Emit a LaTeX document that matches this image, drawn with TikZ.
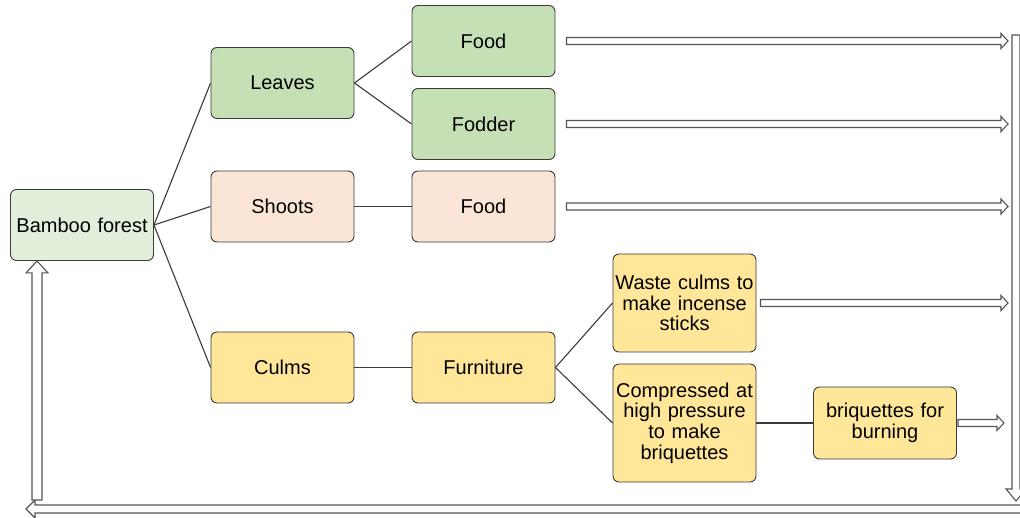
\documentclass[tikz,border=0pt]{standalone}
\usepackage{fontspec}
\setmainfont{Liberation Sans}
\usetikzlibrary{calc}
\definecolor{gA}{HTML}{E2EFDA}
\definecolor{gB}{HTML}{C5E0B4}
\definecolor{pk}{HTML}{FBE5D6}
\definecolor{yl}{HTML}{FFE699}
\definecolor{ed}{HTML}{3A3A3A}
\definecolor{ag}{HTML}{555555}
% block arrow: #1 start, #2 tip, #3 shaft half width, #4 head half width, #5 head length
\newcommand\blkarr[5]{%
  \coordinate (hb) at ($(#2)!#5!(#1)$);
  \draw[blk] ($(#1)!#3!90:(#2)$) -- ($(hb)!#3!90:(#2)$) -- ($(hb)!#4!90:(#2)$)
    -- (#2) -- ($(hb)!#4!-90:(#2)$) -- ($(hb)!#3!-90:(#2)$)
    -- ($(#1)!#3!-90:(#2)$) -- cycle;}
\begin{document}
\begin{tikzpicture}[x=1pt,y=-1pt,
  box/.style={draw=ed, line width=0.9pt, rounded corners=6pt, inner sep=0pt,
    align=center, text width=#1, minimum height=71pt,
    font=\fontsize{20}{20.7}\selectfont},
  box/.default=143pt,
  link/.style={draw=ed, line width=1.1pt},
  blk/.style={draw=ag, line width=1.1pt, fill=white, line join=miter}]
\useasboundingbox (0,0) rectangle (1020,518);
% nodes
\node[box, fill=gA] (bamboo) at (82,225) {Bamboo forest};
\node[box, fill=gB] (leaves) at (282.5,83) {Leaves};
\node[box, fill=gB] (food1) at (483.5,41) {Food};
\node[box, fill=gB] (fodder) at (483.5,124) {Fodder};
\node[box, fill=pk] (shoots) at (282.5,206.5) {Shoots};
\node[box, fill=pk] (food2) at (483.5,206.5) {Food};
\node[box, fill=yl] (culms) at (282.5,367.5) {Culms};
\node[box, fill=yl] (furn) at (483.5,367.5) {Furniture};
\node[box, fill=yl, minimum height=98pt] (waste) at (684.5,303) {Waste culms to\\make incense\\sticks};
\node[box, fill=yl, minimum height=118pt] (comp) at (684.5,423) {Compressed at\\high pressure\\to make\\briquettes};
\node[box, fill=yl, minimum height=72pt] (briq) at (885,423) {briquettes for\\burning};
% links
\draw[link] (bamboo.east) -- (leaves.west);
\draw[link] (bamboo.east) -- (shoots.west);
\draw[link] (bamboo.east) -- (culms.west);
\draw[link] (leaves.east) -- (food1.west);
\draw[link] (leaves.east) -- (fodder.west);
\draw[link] (shoots) -- (food2);
\draw[link] (culms) -- (furn);
\draw[link] (furn.east) -- (waste.west);
\draw[link] (furn.east) -- (comp.west);
\draw[link] (comp) -- (briq);
% hollow block arrows
\coordinate (rc) at (1008,0);
\coordinate (f1s) at ([xshift=11pt]food1.east);
\coordinate (f1e) at (food1.east -| rc);
\coordinate (fds) at ([xshift=11pt]fodder.east);
\coordinate (fde) at (fodder.east -| rc);
\coordinate (f2s) at ([xshift=11pt]food2.east);
\coordinate (f2e) at (food2.east -| rc);
\coordinate (ws) at ([xshift=4pt]waste.east);
\coordinate (we) at (waste.east -| rc);
\coordinate (bs) at ([xshift=1pt]briq.east);
\coordinate (be) at ([xshift=47pt]briq.east);
\coordinate (vtop) at (1016,35);
\coordinate (vbot) at (1016,501);
\coordinate (bstart) at (1030,509);
\coordinate (bend) at (26,509);
\coordinate (lstart) at (37,500);
\coordinate (ltip) at (lstart |- bamboo.south);
\blkarr{f1s}{f1e}{3.5pt}{7.5pt}{7pt}
\blkarr{fds}{fde}{3.5pt}{7.5pt}{7pt}
\blkarr{f2s}{f2e}{3.5pt}{7.5pt}{7pt}
\blkarr{ws}{we}{3.5pt}{7.5pt}{7pt}
\blkarr{bs}{be}{3.5pt}{7.5pt}{7pt}
\blkarr{vtop}{vbot}{4pt}{10pt}{12pt}
\blkarr{bstart}{bend}{4pt}{9pt}{9pt}
\blkarr{lstart}{ltip}{5pt}{11pt}{12pt}
\end{tikzpicture}
\end{document}
